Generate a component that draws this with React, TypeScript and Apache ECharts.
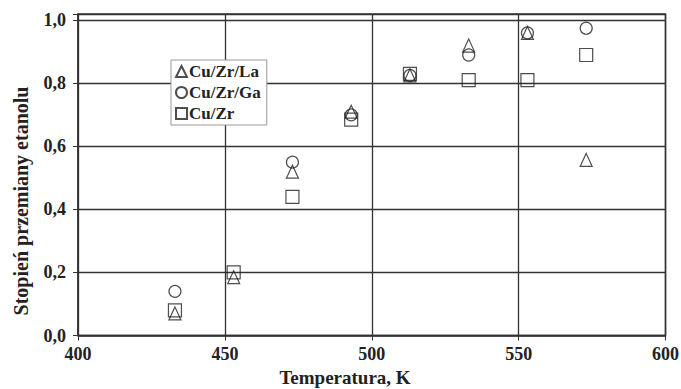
import React, { useEffect, useRef } from "react";
import * as echarts from "echarts";

const temperatures = [433, 453, 473, 493, 513, 533, 553, 573];
const cuZrLa = [0.07, 0.185, 0.52, 0.71, 0.825, 0.92, 0.96, 0.557];
const cuZrGa = [0.14, null, 0.55, 0.7, 0.825, 0.89, 0.96, 0.975];
const cuZr = [0.08, 0.2, 0.44, 0.685, 0.83, 0.81, 0.81, 0.89];
const seriesNames = ["Cu/Zr/La", "Cu/Zr/Ga", "Cu/Zr"];
const symbols = ["triangle", "circle", "rect"];
const xTitle = "Temperatura, K";
const yTitle = "Stopień przemiany etanolu";

const FONT = "'Liberation Serif', 'Times New Roman', serif";

export default function App() {
  const ref = useRef<HTMLDivElement>(null);
  useEffect(() => {
    if (!ref.current) return;
    const chart = echarts.init(ref.current, null, { renderer: "svg" });
    const datasets = [cuZrLa, cuZrGa, cuZr];
    chart.setOption({
      animation: false,
      backgroundColor: "#ffffff",
      grid: {
        left: 78,
        right: 15.5,
        top: 14,
        bottom: 53.5,
        show: true,
        borderColor: "#333",
        borderWidth: 1.5,
        outerBoundsMode: "none",
        containLabel: false,
      },
      legend: {
        orient: "vertical",
        left: 171,
        top: 60,
        itemWidth: 11,
        itemHeight: 11,
        itemGap: 4,
        padding: [3, 6, 3, 4],
        backgroundColor: "#fff",
        borderColor: "#999",
        borderWidth: 1,
        data: seriesNames,
        textStyle: {
          fontFamily: FONT,
          fontWeight: "bold",
          fontSize: 17,
          color: "#222",
          padding: [0, 0, 0, -3],
        },
      },
      graphic: [
        {
          type: "text",
          x: 345,
          y: 377,
          style: {
            text: xTitle,
            font: `bold 19px ${FONT}`,
            fill: "#222",
            align: "center",
            verticalAlign: "middle",
          },
        },
        {
          type: "text",
          x: 21,
          y: 201,
          rotation: Math.PI / 2,
          style: {
            text: yTitle,
            font: `bold 20px ${FONT}`,
            fill: "#222",
            align: "center",
            verticalAlign: "middle",
          },
        },
      ],
      xAxis: {
        type: "value",
        min: 400,
        max: 600,
        interval: 50,
        axisLine: { lineStyle: { color: "#333", width: 1.5 } },
        axisTick: { show: true, inside: false, length: 5, lineStyle: { color: "#333" } },
        axisLabel: { fontFamily: FONT, fontWeight: "bold", fontSize: 18, color: "#222", margin: 9 },
        splitLine: { show: true, lineStyle: { color: "#333", width: 1.3 } },
      },
      yAxis: {
        type: "value",
        min: 0,
        max: 1.02,
        interval: 0.2,
        axisLine: { show: true, lineStyle: { color: "#333", width: 1.5 } },
        axisTick: { show: true, inside: false, length: 5, lineStyle: { color: "#333" } },
        axisLabel: {
          fontFamily: FONT,
          fontWeight: "bold",
          fontSize: 18,
          color: "#222",
          margin: 12,
          formatter: (v: number) => {
            if (Math.abs(v * 5 - Math.round(v * 5)) > 1e-6) return "";
            return (Math.round(v * 10) / 10).toFixed(1).replace(".", ",");
          },
        },
        splitLine: { show: true, lineStyle: { color: "#333", width: 1.3 } },
      },
      series: seriesNames.map((name, i) => ({
        name,
        type: "scatter",
        symbol: symbols[i],
        symbolSize: i === 1 ? 12 : i === 0 ? [12, 13] : 13,
        itemStyle: { color: "rgba(255,255,255,0)", borderColor: "#222", borderWidth: 1.2 },
        data: temperatures
          .map((t, j) => (datasets[i][j] == null ? null : [t, datasets[i][j]]))
          .filter((d) => d !== null),
      })),
    });
    return () => chart.dispose();
  }, []);
  return <div ref={ref} style={{ width: 681, height: 389, position: "absolute", left: 0, top: 0 }} />;
}
